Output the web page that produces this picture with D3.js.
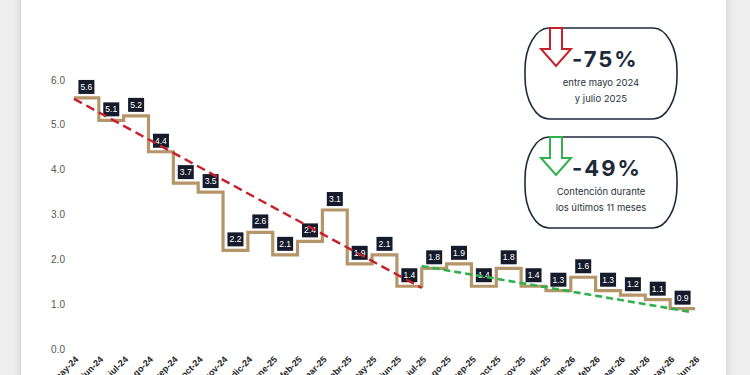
<!DOCTYPE html>
<html>
<head>
<meta charset="utf-8">
<script src="https://cdn.jsdelivr.net/npm/d3@7"></script>
<style>
  body { margin: 0; background: #ececec; }
  svg { display: block; }
</style>
</head>
<body>
<div id="chart_container"></div>
<script>
// months on the x axis (26 ticks), one value per month from may-24 to may-26
let months = ["may-24","jun-24","jul-24","ago-24","sep-24","oct-24","nov-24","dic-24",
  "ene-25","feb-25","mar-25","abr-25","may-25","jun-25","jul-25","ago-25","sep-25","oct-25",
  "nov-25","dic-25","ene-26","feb-26","mar-26","abr-26","may-26","jun-26"];
let values = [5.6,5.1,5.2,4.4,3.7,3.5,2.2,2.6,2.1,2.4,3.1,1.9,2.1,1.4,1.8,1.9,1.4,1.8,1.4,1.3,1.6,1.3,1.2,1.1,0.9];
let yTicks = [0,1,2,3,4,5,6];
// trend lines: [month index, value]
let trendRed = [[0, 5.58], [14, 1.36]];
let trendGreen = [[14, 1.85], [24.8, 0.83]];
// callouts
let callouts = [
  {pct: "-75%", line1: "entre mayo 2024", line2: "y julio 2025", color: "#c8202a"},
  {pct: "-49%", line1: "Contención durante", line2: "los últimos 11 meses", color: "#2fb24c"}
];

let width = 750, height = 375;
let svg = d3.select("#chart_container").append("svg")
  .attr("width", width).attr("height", height);

// card with soft shadow
let defs = svg.append("defs");
let f = defs.append("filter").attr("id", "shadow").attr("x", "-5%").attr("width", "110%");
f.append("feDropShadow").attr("dx", 0).attr("dy", 0).attr("stdDeviation", 4)
  .attr("flood-color", "#000").attr("flood-opacity", 0.18);
svg.append("rect").attr("width", width).attr("height", height).attr("fill", "#efefef");
svg.append("rect").attr("x", 21).attr("y", -20).attr("width", 705).attr("height", height + 40)
  .attr("fill", "#fff").attr("filter", "url(#shadow)");

let x = d3.scaleLinear().domain([0, months.length - 1]).range([74, 695]);
let y = d3.scaleLinear().domain([0, 6]).range([349, 80]);

// y tick labels
svg.selectAll(".ytick").data(yTicks).enter().append("text")
  .attr("x", 65).attr("y", d => y(d)).attr("dy", "0.35em")
  .attr("text-anchor", "end")
  .style("font-family", "Liberation Sans, Arial, sans-serif")
  .style("font-size", "10px").attr("fill", "#555")
  .text(d => d.toFixed(1));

// x tick labels (rotated, partly cut by the bottom edge as in the source)
svg.selectAll(".xtick").data(months).enter().append("text")
  .attr("text-anchor", "end")
  .attr("transform", (d, i) => "translate(" + (x(i) + 5) + ",360) rotate(-45)")
  .style("font-family", "Liberation Sans, Arial, sans-serif")
  .style("font-size", "9px").style("font-weight", "bold").attr("fill", "#222")
  .text(d => d);

// step line
let pts = values.map((v, i) => [i, v]);
pts.push([values.length, values[values.length - 1]]);
let stepLine = d3.line().x(d => x(d[0])).y(d => y(d[1])).curve(d3.curveStepAfter);
svg.append("path").attr("d", stepLine(pts))
  .attr("fill", "none").attr("stroke", "#b5956a").attr("stroke-width", 3.2);

// value labels
let lab = svg.selectAll(".lab").data(values).enter().append("g")
  .attr("transform", (d, i) => "translate(" + x(i + 0.5) + "," + (y(d) - 11) + ")");
lab.append("rect").attr("x", -8).attr("y", -7).attr("width", 16).attr("height", 14)
  .attr("fill", "#161b2b");
lab.append("text").attr("text-anchor", "middle").attr("dy", "0.35em")
  .style("font-family", "Liberation Sans, Arial, sans-serif")
  .style("font-size", "8.5px").attr("fill", "#fff")
  .text(d => d.toFixed(1));

// trend lines
let tl = d3.line().x(d => x(d[0])).y(d => y(d[1]));
svg.append("path").attr("d", tl(trendRed)).attr("fill", "none")
  .attr("stroke", "#c8202a").attr("stroke-width", 2.4).attr("stroke-dasharray", "9,5");
svg.append("path").attr("d", tl(trendGreen)).attr("fill", "none")
  .attr("stroke", "#2fb24c").attr("stroke-width", 2.6).attr("stroke-dasharray", "7,4");

// callout boxes
let boxTop = [28, 137];
callouts.forEach((c, k) => {
  let g = svg.append("g").attr("transform", "translate(0," + boxTop[k] + ")");
  g.append("rect").attr("x", 525).attr("y", 0).attr("width", 152).attr("height", 91)
    .attr("rx", 24).attr("ry", 42)
    .attr("fill", "#fff").attr("stroke", "#1e2a3a").attr("stroke-width", 1.6);
  // hollow down arrow
  let cx = 556, sw = 6, hw = 15, sb = 21, tip = 38;
  let arrow = [[cx - sw, 0], [cx + sw, 0], [cx + sw, sb], [cx + hw, sb], [cx, tip],
               [cx - hw, sb], [cx - sw, sb]];
  g.append("path").attr("d", d3.line()(arrow) + "Z")
    .attr("fill", "#fff").attr("stroke", c.color).attr("stroke-width", 2)
    .attr("stroke-linejoin", "miter");
  g.append("text").attr("x", 572).attr("y", 39)
    .style("font-family", "Inter, Lato, sans-serif").style("font-weight", "bold")
    .style("font-size", "22px").style("letter-spacing", "2px").attr("fill", "#1e2a3a")
    .text(c.pct);
  g.append("text").attr("x", 601).attr("y", 58).attr("text-anchor", "middle")
    .style("font-family", "Inter, Lato, sans-serif").style("font-size", "9.5px")
    .attr("fill", "#2a3340").text(c.line1);
  g.append("text").attr("x", 601).attr("y", 74).attr("text-anchor", "middle")
    .style("font-family", "Inter, Lato, sans-serif").style("font-size", "9.5px")
    .attr("fill", "#2a3340").text(c.line2);
});
</script>
</body>
</html>
